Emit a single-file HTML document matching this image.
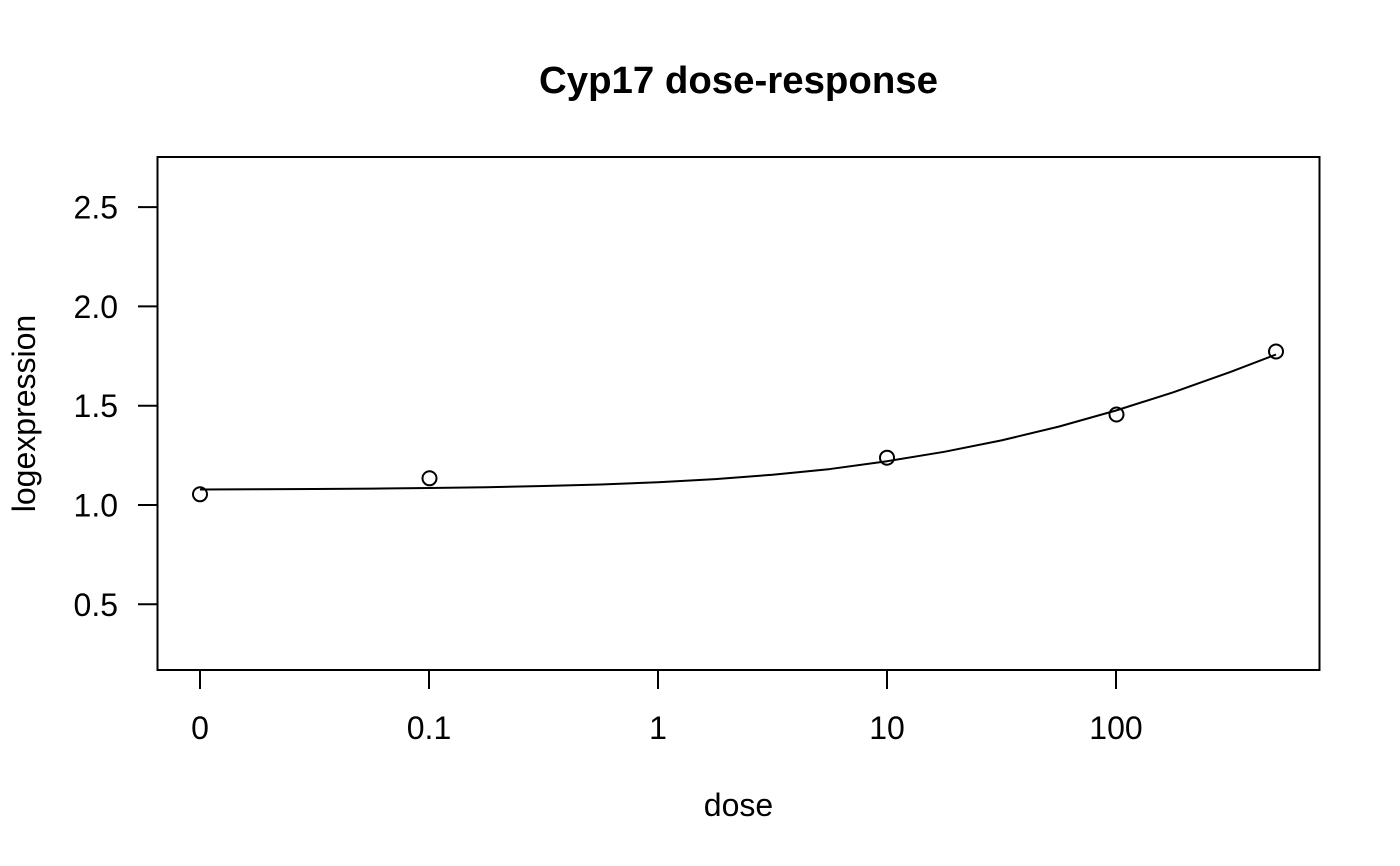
<!DOCTYPE html>
<html>
<head>
<meta charset="utf-8">
<style>
  html, body { margin: 0; padding: 0; background: #ffffff; }
  svg { display: block; }
  text { font-family: "Liberation Sans", Arial, sans-serif; fill: #000; }
</style>
</head>
<body>
<svg width="1400" height="866" viewBox="0 0 1400 866" xmlns="http://www.w3.org/2000/svg">
  <rect x="0" y="0" width="1400" height="866" fill="#ffffff"/>

  <!-- Title -->
  <text x="738.5" y="93" font-size="38.4" font-weight="bold" text-anchor="middle">Cyp17 dose-response</text>

  <!-- Plot box -->
  <rect x="157.5" y="157" width="1162" height="513" fill="none" stroke="#000" stroke-width="2"/>

  <!-- Y axis ticks -->
  <g stroke="#000" stroke-width="2">
    <line x1="157.5" y1="207.1" x2="138" y2="207.1"/>
    <line x1="157.5" y1="306.4" x2="138" y2="306.4"/>
    <line x1="157.5" y1="405.7" x2="138" y2="405.7"/>
    <line x1="157.5" y1="505" x2="138" y2="505"/>
    <line x1="157.5" y1="604.3" x2="138" y2="604.3"/>
  </g>
  <g font-size="32" text-anchor="end">
    <text x="118" y="218.6">2.5</text>
    <text x="118" y="317.9">2.0</text>
    <text x="118" y="417.2">1.5</text>
    <text x="118" y="516.5">1.0</text>
    <text x="118" y="615.8">0.5</text>
  </g>

  <!-- X axis ticks -->
  <g stroke="#000" stroke-width="2">
    <line x1="200" y1="670" x2="200" y2="689"/>
    <line x1="429" y1="670" x2="429" y2="689"/>
    <line x1="658" y1="670" x2="658" y2="689"/>
    <line x1="887" y1="670" x2="887" y2="689"/>
    <line x1="1116" y1="670" x2="1116" y2="689"/>
  </g>
  <g font-size="32" text-anchor="middle">
    <text x="200" y="739">0</text>
    <text x="429" y="739">0.1</text>
    <text x="658" y="739">1</text>
    <text x="887" y="739">10</text>
    <text x="1116" y="739">100</text>
  </g>

  <!-- Axis labels -->
  <text x="738.5" y="816" font-size="32" text-anchor="middle">dose</text>
  <text x="0" y="0" font-size="32" text-anchor="middle" transform="translate(35,413.5) rotate(-90)">logexpression</text>

  <!-- Fitted curve -->
  <polyline fill="none" stroke="#000" stroke-width="2" stroke-linejoin="round" points="
    200,489.49 257.25,489.28 314.5,488.99 371.75,488.58 429,488.01
    486.25,487.2 543.5,486.06 600.75,484.47 658,482.23 715.25,479.09
    772.5,474.76 829.75,469.07 887,461.2 944.25,451.8 1001.5,440.4
    1058.75,426.6 1116,410.5 1173.25,392.3 1230.5,371.9 1276,354.5"/>

  <!-- Data points -->
  <g fill="none" stroke="#000" stroke-width="2">
    <circle cx="200" cy="494.3" r="7"/>
    <circle cx="429.5" cy="478.3" r="7"/>
    <circle cx="887" cy="457.7" r="7"/>
    <circle cx="1116.5" cy="414.5" r="7"/>
    <circle cx="1276" cy="351.5" r="7"/>
  </g>
</svg>
</body>
</html>
